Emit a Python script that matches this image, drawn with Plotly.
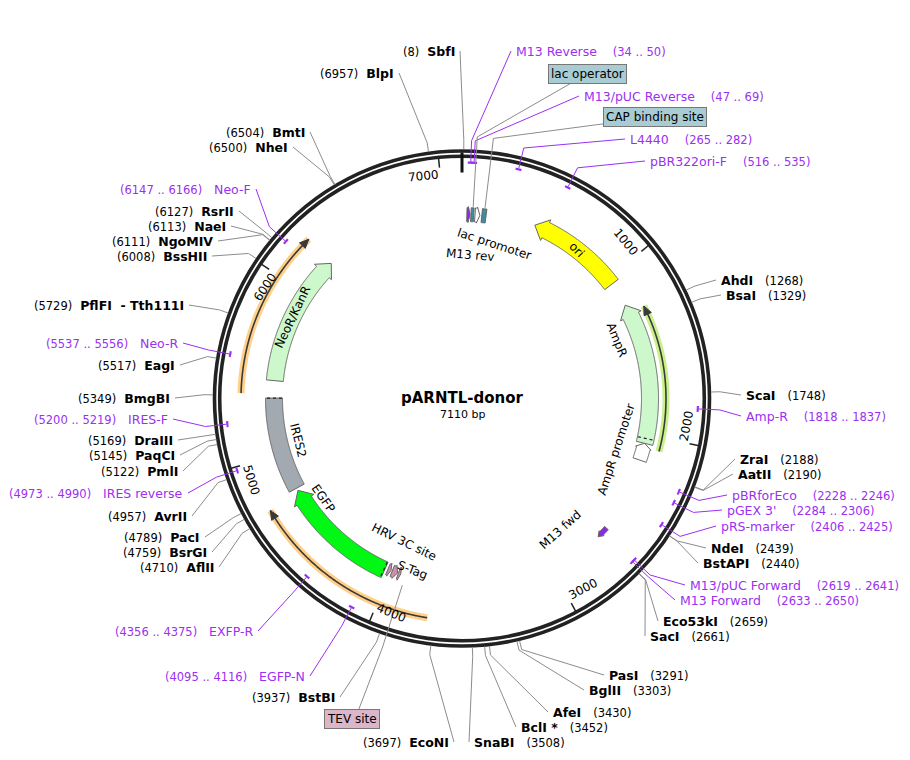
import math
import plotly.graph_objects as go

N = 7110
CX, CY = 462, 398.5
NAME = "pARNTL-donor"

# ---- data ----
site_names = ["SbfI","BlpI","BmtI","NheI","RsrII","NaeI","NgoMIV","BssHII","PflFI  - Tth111I","EagI","BmgBI",
              "DraIII","PaqCI","PmlI","AvrII","PacI","BsrGI","AflII","BstBI","EcoNI",
              "AhdI","BsaI","ScaI","ZraI","AatII","NdeI","BstAPI","Eco53kI","SacI","PasI","BglII","AfeI","BclI *","SnaBI"]
site_pos = [8,6957,6504,6500,6127,6113,6111,6008,5729,5517,5349,
            5169,5145,5122,4957,4789,4759,4710,3937,3697,
            1268,1329,1748,2188,2190,2439,2440,2659,2661,3291,3303,3430,3452,3508]
site_side = ["L"]*20 + ["R"]*14
site_lx = [457,396,307,290,236,228,215,209,186,177,172,
           175,177,180,189,202,209,216,337,451,
           719,724,744,738,736,709,701,661,648,607,587,551,519,472]
site_ly = [51,73,132,147,211,226,241,256,305,365,398,
           440,455,471,516,537,552,567,697,742,
           280,295,395,459,474,548,563,621,636,675,690,712,727,742]

primer_names = ["M13 Reverse","M13/pUC Reverse","L4440","pBR322ori-F","Amp-R","pBRforEco","pGEX 3'","pRS-marker",
                "M13/pUC Forward","M13 Forward","EXFP-R","EGFP-N","IRES reverse","IRES-F","Neo-R","Neo-F"]
primer_start = [34,47,265,516,1818,2228,2284,2406,2619,2633,4356,4095,4973,5200,5537,6147]
primer_end = [50,69,282,535,1837,2246,2306,2425,2641,2650,4375,4116,4990,5219,5556,6166]
primer_side = ["R"]*10 + ["L"]*6
primer_lx = [514,582,628,648,744,730,725,719,688,678,255,307,185,170,180,253]
primer_ly = [51,96,139,161,416,495,510,526,585,600,631,676,493,419,343,189]

box_names = ["lac operator","CAP binding site","TEV site"]
box_pos = [66,136,3905]
box_cx = [587,655,352]
box_cy = [74,117,719]
box_col = ["#a9cbd3","#a9cbd3","#dcb6c8"]
box_r = [192,192,196]

feat_names = ["ori","AmpR","AmpR promoter","NeoR/KanR","IRES2","EGFP","HRV 3C site","S-Tag","S-Tag2",
              "M13 rev","lac operator","lac promoter","CAP binding site","M13 fwd"]
feat_start = [450,1190,2050,5440,4770,4035,3998,3955,3935,30,55,80,122,2605]
feat_end = [1040,2050,2155,6240,5335,4755,4018,3990,3950,50,72,110,148,2675]
feat_strand = [-1,-1,-1,1,0,1,-1,-1,-1,1,0,1,0,1]
feat_fill = ["#ffff00","#ccf8cc","#ffffff","#ccf8cc","#a3a9b1","#00f814","#c993ad","#c993ad","#c993ad",
             "#8a2be2","#3a8fa0","#ffffff","#3a8fa0","#8a2be2"]
feat_r = [188,188,188,188,188,188,186,186,186,184,184,184,184,194]
feat_w = [17,17,14,17,17,17,12,12,12,14,14,14,14,5]

arc_start = [1245,5360,3733]
arc_end = [2075,6243,4734]
arc_strand = [-1,1,1]
arc_glow = ["#c9f08a","#ffd08a","#ffd08a"]
arc_r = [204,221,222]

ticks = [1000,2000,3000,4000,5000,6000,7000]

# ---- helpers ----
def pt(pos, r):
    t = 2*math.pi*pos/N
    return CX + r*math.sin(t), CY - r*math.cos(t)

def arcpts(p1, p2, r, step=4):
    n = max(2, int(abs(p2-p1)/step)+2)
    return [pt(p1+(p2-p1)*i/(n-1), r) for i in range(n)]

def path(points, close=True):
    s = "M " + " L ".join(f"{x:.2f},{y:.2f}" for x, y in points)
    return s + (" Z" if close else "")

shapes, ann = [], []
def add_path(points, fill=None, line="#555", lw=1, close=True, dash=None):
    d = dict(type="path", path=path(points, close), xref="x", yref="y",
             line=dict(color=line, width=lw))
    if dash: d["line"]["dash"] = dash
    if fill: d["fillcolor"] = fill
    shapes.append(d)

def arrow_shape(s, e, strand, r, w, head_px=12, extra=3):
    hb = head_px/(2*math.pi*r)*N
    hb = min(hb, abs(e-s)*0.6)
    r1, r2 = r-w/2, r+w/2
    if strand == 1:
        b = e-hb
        pts = arcpts(s, b, r2) + [pt(b, r2+extra), pt(e, r), pt(b, r1-extra)] + arcpts(b, s, r1)
    elif strand == -1:
        b = s+hb
        pts = [pt(s, r), pt(b, r2+extra)] + arcpts(b, e, r2) + arcpts(e, b, r1) + [pt(b, r1-extra)]
    else:
        pts = arcpts(s, e, r2) + arcpts(e, s, r1)
    return pts

def text(x, y, t, size=12, color="black", angle=0, xa="center", bold=False, **kw):
    if bold: t = f"<b>{t}</b>"
    ann.append(dict(x=x, y=y, text=t, showarrow=False, xref="x", yref="y", xanchor=xa, yanchor="middle",
                    textangle=angle, font=dict(size=size, color=color, family="DejaVu Sans"), **kw))

for rr in (247.5, 242.3):
    shapes.append(dict(type="circle", xref="x", yref="y", x0=CX-rr, x1=CX+rr, y0=CY-rr, y1=CY+rr,
                       line=dict(color="#222", width=3.6)))
x0, y0 = pt(0, 226); x1, y1 = pt(0, 246)
shapes.append(dict(type="line", x0=x0, y0=y0, x1=x1, y1=y1, line=dict(color="#111", width=3)))

for t in ticks:
    a = pt(t, 232); b = pt(t, 242)
    shapes.append(dict(type="line", x0=a[0], y0=a[1], x1=b[0], y1=b[1], line=dict(color="#222", width=1.5)))
    th = 360*t/N
    ang = th if (th < 90 or th > 270) else th-180
    if ang > 180: ang -= 360
    tx, ty = pt(t - 17/(2*math.pi*226)*N, 226)
    text(tx, ty, str(t), size=12, angle=ang)

for s, e, st, g, r in zip(arc_start, arc_end, arc_strand, arc_glow, arc_r):
    add_path(arcpts(s, e, r), line=g, lw=7, close=False)
    add_path(arcpts(s, e, r), line="#3a3a3a", lw=1.6, close=False)
    hb = 9/(2*math.pi*r)*N
    if st == 1:
        tip, b = e, e-hb
    else:
        tip, b = s, s+hb
    add_path([pt(b, r+4), pt(tip, r), pt(b, r-4)], fill="#3a3a3a", line="#3a3a3a", lw=1)

for nm, s, e, st, f, r, w in zip(feat_names, feat_start, feat_end, feat_strand, feat_fill, feat_r, feat_w):
    hp = 12 if (e-s) > 200 else 5
    ex = 3 if (e-s) > 200 else 1
    add_path(arrow_shape(s, e, st, r, w, hp, ex), fill=f, line="#666", lw=1)
for p in (2020, 5335, 4040):
    a = pt(p, 180); b = pt(p, 196)
    shapes.append(dict(type="line", x0=a[0], y0=a[1], x1=b[0], y1=b[1], line=dict(color="#222", width=1.2, dash="dot")))

text(*pt(745, 188), "ori", 12, angle=360*745/N+8)
text(617, 340, "AmpR", 12, angle=68)
text(616, 450, "AmpR promoter", 12, angle=-72)
text(*pt(5840, 188), "NeoR/KanR", 12, angle=360*5840/N-360)
text(298, 440, "IRES2", 12, angle=76)
text(323, 498, "EGFP", 12, angle=55)
text(404, 542, "HRV 3C site", 12, angle=26)
text(412, 570, "S-Tag", 12, angle=21)
text(494, 244, "lac promoter", 12, angle=18)
text(470, 255, "M13 rev", 12, angle=5)
text(560, 530, "M13 fwd", 12, angle=-42)

def leader(pos, side, lx, ly, color, r0=249):
    ax = lx-3 if side == "R" else lx+3
    a = pt(pos, r0); b = pt(pos, 258)
    add_path([a, b, (ax, ly)], line=color, lw=1, close=False)

for nm, p, sd, lx, ly in zip(site_names, site_pos, site_side, site_lx, site_ly):
    leader(p, sd, lx, ly, "#8c8c8c")
    pos_t = f"({p})"
    if sd == "R":
        text(lx, ly, f"<b>{nm}</b>&nbsp;&nbsp;&nbsp;<span style='font-size:11.5px'>{pos_t}</span>", 12.5, xa="left")
    else:
        text(lx, ly, f"<span style='font-size:11.5px'>{pos_t}</span>&nbsp;&nbsp;<b>{nm}</b>", 12.5, xa="right")

PUR = "#9b30f0"
for nm, s, e, sd, lx, ly in zip(primer_names, primer_start, primer_end, primer_side, primer_lx, primer_ly):
    m = (s+e)/2
    half = max((e-s)/2, 3/(2*math.pi*236)*N)
    add_path(arcpts(m-half, m+half, 236, 1), line=PUR, lw=2.2, close=False)
    leader(m, sd, lx, ly, PUR, r0=237)
    rng = f"({s} .. {e})"
    if sd == "R":
        text(lx, ly, f"{nm}&nbsp;&nbsp;&nbsp;&nbsp;<span style='font-size:11.5px'>{rng}</span>", 12.5, PUR, xa="left")
    else:
        text(lx, ly, f"<span style='font-size:11.5px'>{rng}</span>&nbsp;&nbsp;&nbsp;{nm}", 12.5, PUR, xa="right")

for nm, p, cx, cy, col, r in zip(box_names, box_pos, box_cx, box_cy, box_col, box_r):
    a = pt(p, r); b = pt(p, 262)
    add_path([a, b, (cx, cy+8 if cy > 600 else cy)], line="#8c8c8c", lw=1, close=False)
    text(cx, cy, nm, 12, bgcolor=col, bordercolor="#777", borderwidth=1, borderpad=2)

text(CX, 398, "pARNTL-donor", 15, bold=True)
text(CX, 414, "7110 bp", 11)
text(893, 7, "Created by <b>SnapGene</b>", 8, "#aaaaaa", xa="right")

OFF = 8
fig = go.Figure()
fig.update_layout(width=910, height=760, margin=dict(l=0, r=0, t=0, b=0),
                  paper_bgcolor="white", plot_bgcolor="white", shapes=shapes, annotations=ann,
                  xaxis=dict(range=[OFF, 910+OFF], visible=False, fixedrange=True),
                  yaxis=dict(range=[760+OFF, OFF], visible=False, fixedrange=True), showlegend=False)
fig.write_html("out.html")
